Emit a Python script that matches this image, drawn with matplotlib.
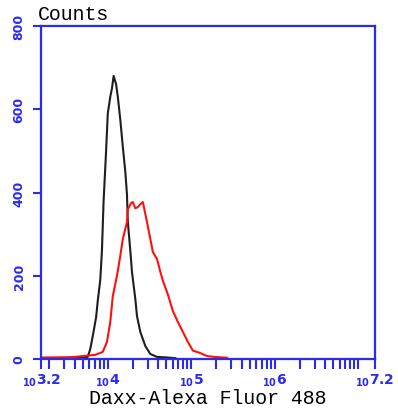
import numpy as np
import matplotlib.pyplot as plt
from matplotlib.ticker import FixedLocator, NullFormatter

# log10 fluorescence and counts
black_log = [3.20, 3.43, 3.67, 3.76, 3.79, 3.82, 3.86, 3.88, 3.91, 3.93, 3.95,
             3.98, 4.00, 4.03, 4.05, 4.07, 4.10, 4.12, 4.15, 4.18, 4.21, 4.23,
             4.24, 4.27, 4.29, 4.33, 4.35, 4.39, 4.45, 4.51, 4.59, 4.69, 4.81]
black_counts = [3, 3, 4, 5, 24, 55, 100, 140, 190, 260, 380,
                500, 590, 630, 650, 680, 660, 630, 575, 510, 450, 395,
                330, 260, 209, 144, 103, 65, 31, 12, 5, 4, 2]

red_log = [3.20, 3.55, 3.85, 3.94, 3.99, 4.03, 4.06, 4.11, 4.15, 4.18, 4.23,
           4.24, 4.28, 4.30, 4.33, 4.36, 4.39, 4.42, 4.47, 4.51, 4.54, 4.59,
           4.63, 4.66, 4.72, 4.78, 4.84, 4.90, 4.96, 5.02, 5.10, 5.19, 5.28,
           5.43]
red_counts = [3, 4, 10, 17, 41, 89, 151, 200, 248, 288, 329,
              360, 375, 377, 362, 365, 372, 377, 329, 288, 257, 240,
              209, 188, 155, 115, 89, 65, 41, 20, 15, 7, 5,
              3]

y_ticks = [0, 200, 400, 600, 800]
x_label_exps = ['3.2', '4', '5', '6', '7.2']

blue = '#2a2af0'

fig = plt.figure(figsize=(3.98, 4.14), dpi=100)
ax = fig.add_axes([0.103, 0.1304, 0.839, 0.8044])

ax.plot(10 ** np.array(black_log), black_counts, color='#1e1e1e', lw=1.5)
ax.plot(10 ** np.array(red_log), red_counts, color='#ff1010', lw=1.5)

ax.set_xscale('log')
ax.set_xlim(10 ** 3.2, 10 ** 7.2)
ax.set_ylim(0, 800)

for sp in ax.spines.values():
    sp.set_color(blue)
    sp.set_linewidth(1.6)

# every n*10^k tick, all the same length
minor = [m * 10 ** k for k in range(3, 8) for m in range(1, 10)
         if 10 ** 3.2 <= m * 10 ** k <= 10 ** 7.2]
ax.xaxis.set_major_locator(FixedLocator([10 ** float(e) for e in x_label_exps]))
ax.xaxis.set_minor_locator(FixedLocator(minor))
ax.xaxis.set_minor_formatter(NullFormatter())
ax.set_xticklabels([r'$_{\mathbf{10}}\mathbf{%s}$' % e for e in x_label_exps])
ax.tick_params(axis='x', which='both', direction='out', length=7, width=1.5,
               color=blue, labelcolor=blue, labelsize=10, pad=2)

ax.set_yticks(y_ticks)
ax.set_yticklabels([str(v) for v in y_ticks], rotation=90, va='center',
                   fontweight='bold')
ax.tick_params(axis='y', direction='out', length=6, width=1.5,
               color=blue, labelcolor=blue, labelsize=9, pad=5)

ax.set_xlabel('Daxx-Alexa Fluor 488', family='Liberation Mono', fontsize=14.3,
              labelpad=0)
fig.text(38 / 398, 1 - 15 / 414, 'Counts', family='Liberation Mono',
         fontsize=14.3, va='center', ha='left')

fig.savefig('out.png', dpi=100)
